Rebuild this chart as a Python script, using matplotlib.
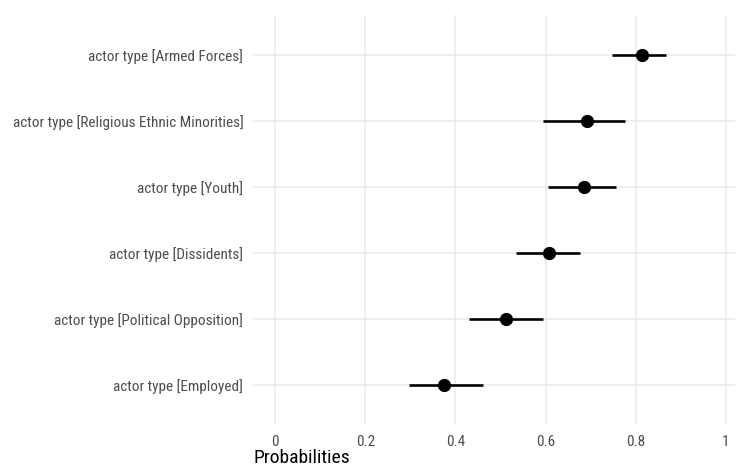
import matplotlib.pyplot as plt
from matplotlib import font_manager

# values
labels = [
    "actor type [Employed]",
    "actor type [Political Opposition]",
    "actor type [Dissidents]",
    "actor type [Youth]",
    "actor type [Religious Ethnic Minorities]",
    "actor type [Armed Forces]",
]
estimate = [0.375, 0.512, 0.608, 0.685, 0.691, 0.814]
conf_low = [0.298, 0.431, 0.534, 0.606, 0.594, 0.747]
conf_high = [0.462, 0.594, 0.677, 0.755, 0.775, 0.868]
x_ticks = [0, 0.2, 0.4, 0.6, 0.8, 1]
x_tick_labels = ["0", "0.2", "0.4", "0.6", "0.8", "1"]

# pick a narrow font if one is around
installed = {f.name for f in font_manager.fontManager.ttflist}
font = "DejaVu Sans"
for name in ["Roboto Condensed", "Liberation Sans Narrow", "Roboto"]:
    if name in installed:
        font = name
        break
plt.rcParams["font.family"] = [font, "DejaVu Sans"]

fig = plt.figure(figsize=(7.37, 4.67), dpi=100)
ax = fig.add_axes([0.3433, 0.09, 0.6540, 0.878])

ypos = list(range(len(labels)))
for y, lo, hi in zip(ypos, conf_low, conf_high):
    ax.plot([lo, hi], [y, y], color="black", lw=1.9, solid_capstyle="butt", zorder=3)
ax.plot(estimate, ypos, "o", color="black", markersize=8.5, zorder=4)

ax.set_xlim(-0.049, 1.02)
ax.set_ylim(-0.6, len(labels) - 0.4)
ax.set_xticks(x_ticks)
ax.set_xticklabels(x_tick_labels)
ax.set_yticks(ypos)
ax.set_yticklabels(labels)

ax.grid(True, color="#EBEBEB", lw=1.1)
ax.set_axisbelow(True)
for s in ax.spines.values():
    s.set_visible(False)
ax.tick_params(length=0, labelsize=11, colors="#4D4D4D")
ax.tick_params(axis="y", pad=7)
ax.tick_params(axis="x", pad=7)

ax.set_xlabel("Probabilities", fontsize=14, color="black", loc="left", labelpad=0)

fig.savefig("out.png", dpi=100)
